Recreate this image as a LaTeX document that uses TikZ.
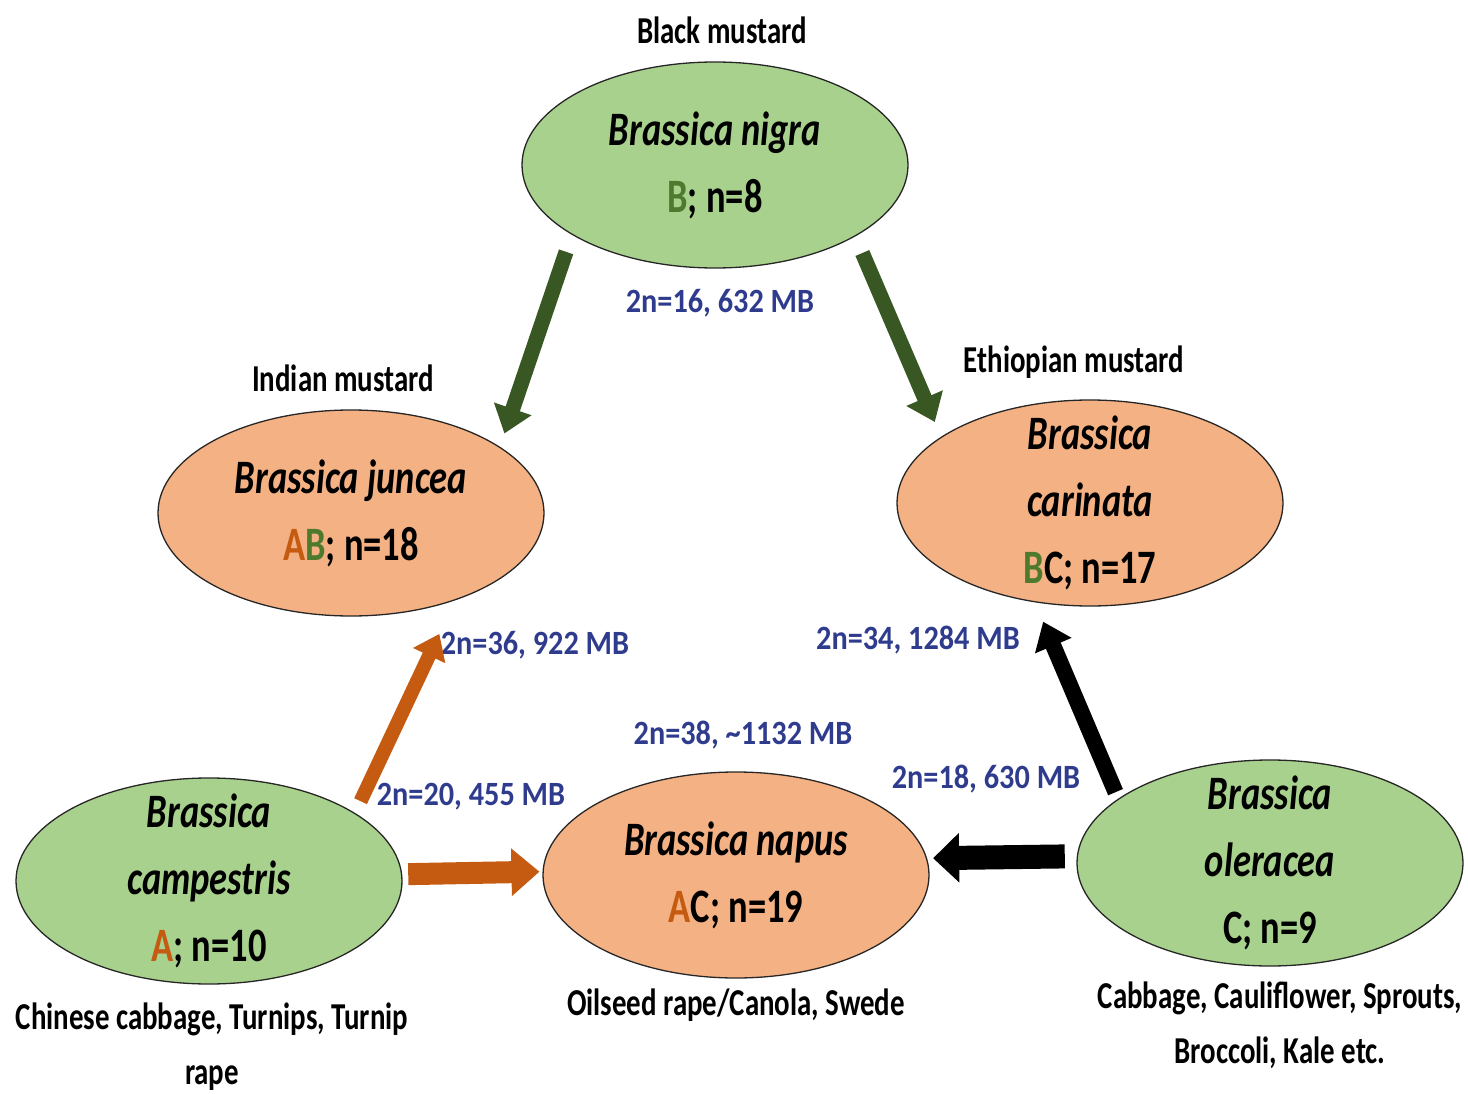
\documentclass[tikz,border=0pt]{standalone}
\usepackage{fontspec}
\setmainfont{Carlito}
\usetikzlibrary{arrows.meta,shapes.geometric}
\definecolor{leafgreen}{HTML}{A9D18E}
\definecolor{peach}{HTML}{F4B183}
\definecolor{darkleaf}{HTML}{385723}
\definecolor{leafletter}{HTML}{4E7A2E}
\definecolor{rust}{HTML}{C55A11}
\definecolor{genomeblue}{HTML}{2F3C8E}
\newcommand{\gA}{\textcolor{rust}{A}}
\newcommand{\gB}{\textcolor{leafletter}{B}}
\begin{document}
\begin{tikzpicture}[x=1pt,y=-1pt,
  species/.style={ellipse,draw=black!85,line width=1.3pt,inner xsep=0pt,inner ysep=-30pt,
    minimum width=386pt,minimum height=206pt,align=center,
    font=\bfseries\fontsize{48}{67}\selectfont\addfontfeature{FakeStretch=0.76}},
  diploid/.style={species,fill=leafgreen},
  hybrid/.style={species,fill=peach},
  common/.style={font=\bfseries\fontsize{38}{55}\selectfont\addfontfeature{FakeStretch=0.76},align=center},
  genome/.style={font=\bfseries\fontsize{34}{40}\selectfont\addfontfeature{FakeStretch=0.89},text=genomeblue},
  greenarrow/.style={draw=darkleaf,line width=15pt,-{Triangle[length=26pt,width=38pt]}},
  orangearrow/.style={draw=rust,line width=14pt,-{Triangle[length=24pt,width=34pt]}},
  blackarrow/.style={draw=black,line width=16pt,-{Triangle[length=26pt,width=38pt]}},
  orangebar/.style={draw=rust,line width=22pt,-{Triangle[length=28pt,width=46pt]}},
  blackbar/.style={draw=black,line width=24pt,-{Triangle[length=26pt,width=48pt]}}]
\useasboundingbox (0,0) rectangle (1468,1094);
% the six species
\node[diploid] (nigra) at (715,165) {\textit{Brassica nigra}\\\gB; n=8};
\node[hybrid] (juncea) at (351,513) {\textit{Brassica juncea}\\\gA\gB; n=18};
\node[hybrid] (carinata) at (1090,503) {\textit{Brassica}\\\textit{carinata}\\\gB C; n=17};
\node[diploid] (campestris) at (209,881) {\textit{Brassica}\\\textit{campestris}\\\gA; n=10};
\node[hybrid] (napus) at (736,875) {\textit{Brassica napus}\\\gA C; n=19};
\node[diploid] (oleracea) at (1270,863) {\textit{Brassica}\\\textit{oleracea}\\C; n=9};
% common names and crops
\node[common] (blackname) at (722,30) {Black mustard};
\node[common] (indianname) at (343,378) {Indian mustard};
\node[common] (ethioname) at (1074,362) {Ethiopian mustard};
\node[common] (campcrops) at (212,1047) {Chinese cabbage, Turnips, Turnip\\rape};
\node[common] (napuscrops) at (736,1005) {Oilseed rape/Canola, Swede};
\node[common] (olercrops) at (1280,1025) {Cabbage, Cauliflower, Sprouts,\\Broccoli, Kale etc.};
% chromosome numbers and genome sizes
\node[genome] (nigrasize) at (720,303) {2n=16, 632 MB};
\node[genome] (junceasize) at (535,645) {2n=36, 922 MB};
\node[genome] (carinatasize) at (918,640) {2n=34, 1284 MB};
\node[genome] (napussize) at (743,735) {2n=38, \textasciitilde1132 MB};
\node[genome] (campsize) at (471,797) {2n=20, 455 MB};
\node[genome] (olersize) at (986,779) {2n=18, 630 MB};
% crosses
\draw[greenarrow,shorten <=18pt,shorten >=14pt] (nigra.206.6) -- (juncea.24.7);
\draw[greenarrow,shorten <=18pt,shorten >=16pt] (nigra.333.2) -- (carinata.156.1);
\draw[orangearrow,shorten <=13pt,shorten >=37pt] (campestris.25.8) -- (juncea.320.5);
\draw[orangebar,shorten <=6pt,shorten >=3pt] (campestris.2.4) -- (napus.179.4);
\draw[blackarrow,shorten <=7pt,shorten >=21pt] (oleracea.157.8) -- (carinata.241.8);
\draw[blackbar,shorten <=12pt,shorten >=6pt] (oleracea.178.5) -- (napus.5.1);
\end{tikzpicture}
\end{document}
